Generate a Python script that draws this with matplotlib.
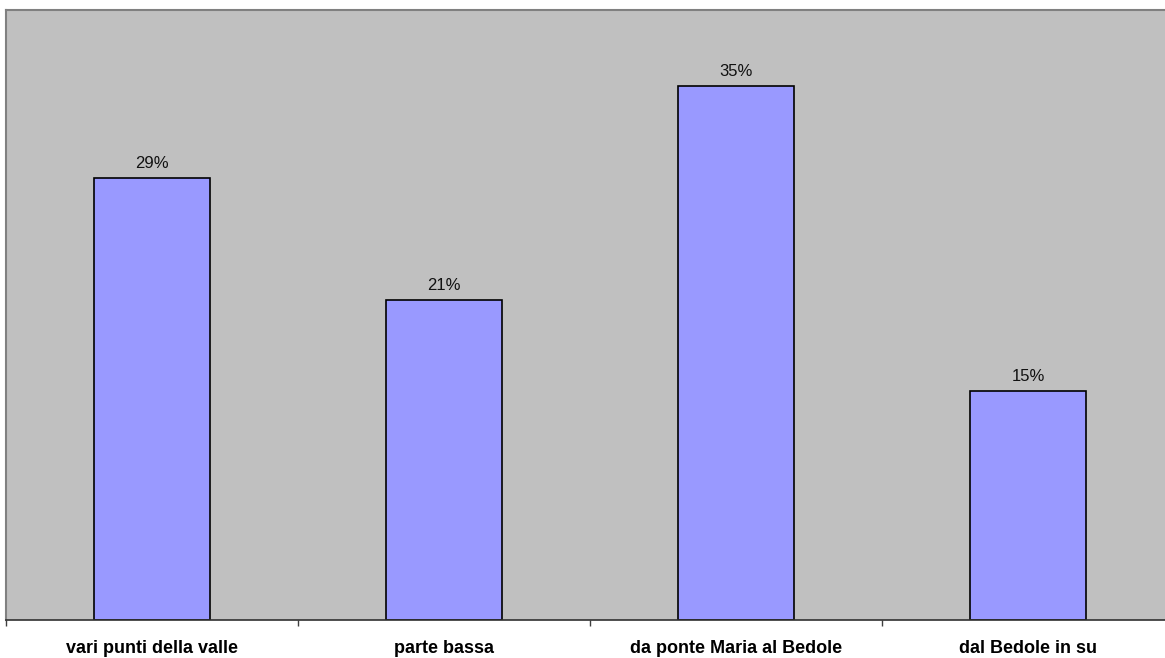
import matplotlib
matplotlib.use("Agg")
import matplotlib.pyplot as plt

plt.rcParams['font.family'] = ['Liberation Sans', 'DejaVu Sans']

categorie = ["vari punti della valle", "parte bassa", "da ponte Maria al Bedole", "dal Bedole in su"]
percentuali = [29, 21, 35, 15]

W, H = 1165, 658
fig = plt.figure(figsize=(W / 100, H / 100), dpi=100)
fig.patch.set_facecolor("white")

# area del grafico: parte da sinistra e prosegue oltre il bordo destro
ax = fig.add_axes([6 / W, (H - 619.5) / H, 1168 / W, 609.5 / H])
ax.set_facecolor("#C0C0C0")

x = range(len(categorie))
bars = ax.bar(x, percentuali, width=0.4, color="#9999FF", edgecolor="black", linewidth=1.2, zorder=2)

for b, v in zip(bars, percentuali):
    ax.annotate(f"{v}%", (b.get_x() + b.get_width() / 2, v), xytext=(0, 5),
                textcoords="offset points", ha="center", va="bottom", fontsize=12, color="#111111")

ax.set_xlim(-0.5, len(categorie) - 0.5)
ax.set_ylim(0, 40)
ax.set_yticks([])

# tacche sui confini delle categorie, etichette al centro
ax.set_xticks([i - 0.5 for i in range(len(categorie) + 1)])
ax.set_xticklabels([])
ax.tick_params(axis="x", direction="out", length=4.5, width=1, color="#404040")
ax.set_xticks(list(x), minor=True)
ax.set_xticklabels(categorie, minor=True, fontsize=13, fontweight="bold")
ax.tick_params(axis="x", which="minor", length=0, pad=15)

for s in ("top", "left"):
    ax.spines[s].set_color("#808080")
    ax.spines[s].set_linewidth(1.5)
ax.spines["right"].set_visible(False)
ax.spines["bottom"].set_color("#303030")
ax.spines["bottom"].set_linewidth(1.2)

fig.savefig("out.png", dpi=100)
